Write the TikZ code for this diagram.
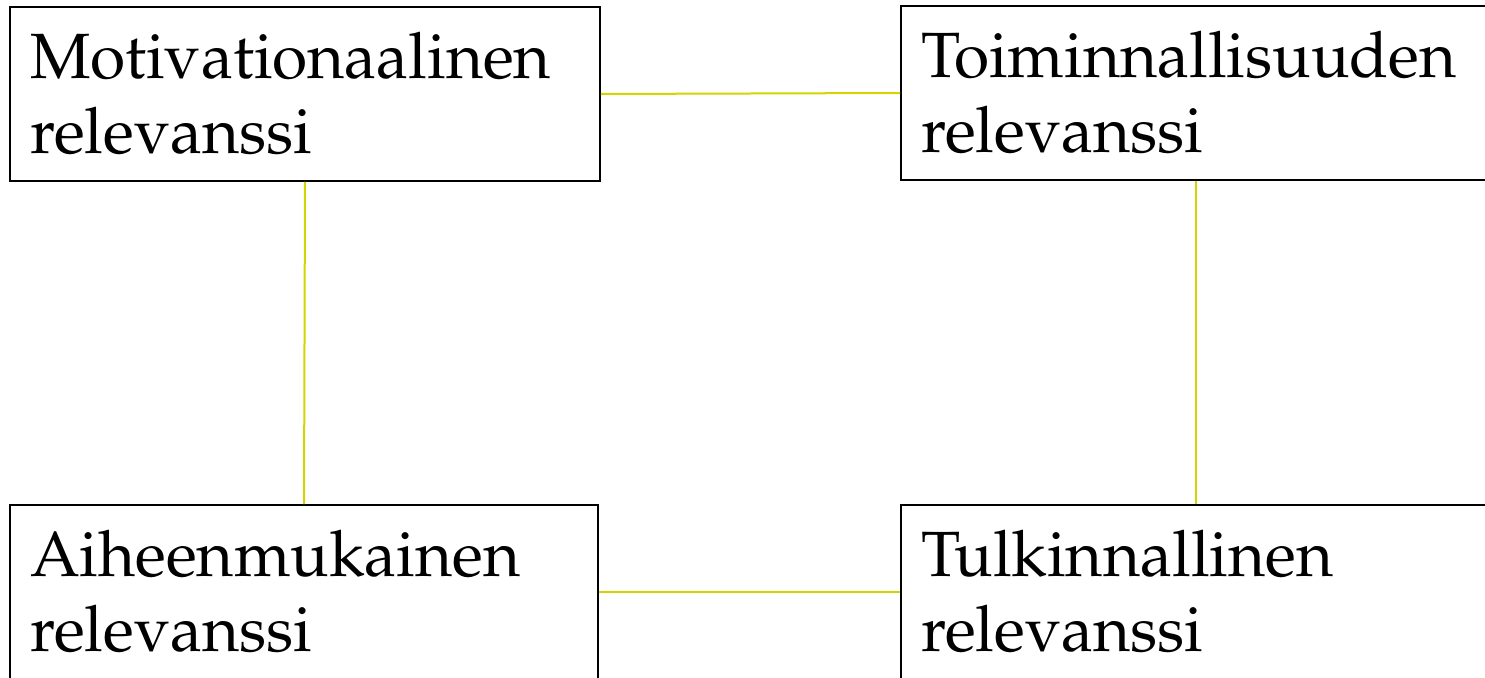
\documentclass[tikz,border=0pt]{standalone}
\usepackage[T1]{fontenc}
\usepackage{palatino}
\definecolor{linkyellow}{RGB}{212,212,0}
\begin{document}
\begin{tikzpicture}[x=1pt,y=-1pt,
  box/.style={draw=black, line width=1.6pt, rectangle, minimum width=590pt,
    minimum height=174pt, text width=550pt, inner xsep=20pt, inner ysep=0pt,
    align=left, font=\fontsize{64}{75}\selectfont},
  link/.style={draw=linkyellow, line width=2pt}]
\useasboundingbox (0,0) rectangle (1485,677);
\node[box] (mot) at (305,94) {Motivationaalinen\\relevanssi};
\node[box] (toi) at (1196,93) {Toiminnallisuuden\\relevanssi};
\node[box, minimum width=588pt, text width=548pt] (aih) at (304,592) {Aiheenmukainen\\relevanssi};
\node[box] (tul) at (1196,592) {Tulkinnallinen\\relevanssi};
\draw[link] (mot.east) -- (toi.west);
\draw[link] (mot.south) -- (aih.north);
\draw[link] (toi.south) -- (tul.north);
\draw[link] (aih.east) -- (tul.west);
\end{tikzpicture}
\end{document}
